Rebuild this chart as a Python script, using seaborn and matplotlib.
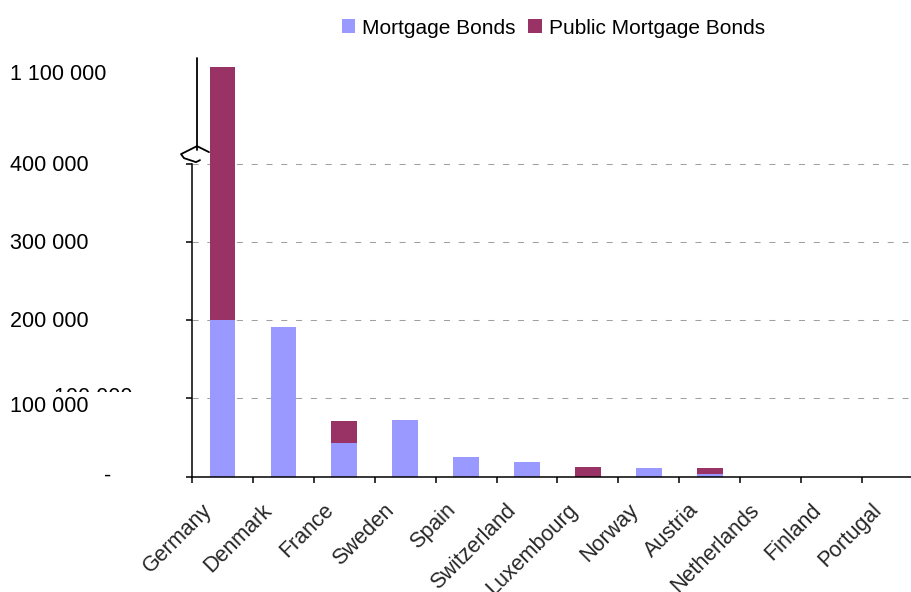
import numpy as np
import pandas as pd
import matplotlib
matplotlib.use("Agg")
import matplotlib.pyplot as plt
import matplotlib.patches as mpatches
from matplotlib.lines import Line2D
from matplotlib.transforms import ScaledTranslation
import seaborn as sns

# Outstanding covered bonds by country
countries = ["Germany", "Denmark", "France", "Sweden", "Spain", "Switzerland",
             "Luxembourg", "Norway", "Austria", "Netherlands", "Finland", "Portugal"]
mortgage_bonds = [201000, 191000, 42300, 71800, 25600, 18000, 0, 10300, 3800, 0, 0, 0]
public_mortgage_bonds = [955000, 0, 28200, 0, 0, 0, 12800, 0, 6500, 0, 0, 0]
series_names = ["Mortgage Bonds", "Public Mortgage Bonds"]
tick_values = [0, 100000, 200000, 300000, 400000]
tick_labels = ["-", "100 000", "200 000", "300 000", "400 000"]
break_value = 400000
top_value = 1100000
top_label = "1 100 000"

C_MORT = "#9999FF"
C_PUB = "#993366"

sns.set_style("white")
plt.rcParams["font.family"] = ["Liberation Sans", "DejaVu Sans"]
plt.rcParams["text.color"] = "black"

df = pd.DataFrame({
    "country": countries,
    "mortgage": mortgage_bonds,
    "public": public_mortgage_bonds,
})
df["total"] = df["mortgage"] + df["public"]

W, H = 912, 592
fig = plt.figure(figsize=(W / 100, H / 100), dpi=100)
ax_left, ax_right, ax_top, ax_bottom = 192, 923, 58, 476.5
ax = fig.add_axes([ax_left / W, (H - ax_bottom) / H,
                   (ax_right - ax_left) / W, (ax_bottom - ax_top) / H])

# broken value axis: linear up to the break, compressed above it
K = 90.0 / 546.0


def fwd(y):
    y = np.asarray(y, dtype=float)
    return np.where(y <= break_value, y, break_value + (y - break_value) * K)


def inv(t):
    t = np.asarray(t, dtype=float)
    return np.where(t <= break_value, t, break_value + (t - break_value) / K)


ax.set_yscale("function", functions=(fwd, inv))

# stacked bars: full stack in public colour, mortgage part drawn over it
sns.barplot(data=df, x="country", y="total", color=C_PUB, saturation=1,
            width=0.42, errorbar=None, ax=ax, zorder=3, linewidth=0, edgecolor="none")
sns.barplot(data=df, x="country", y="mortgage", color=C_MORT, saturation=1,
            width=0.42, errorbar=None, ax=ax, zorder=3, linewidth=0, edgecolor="none")

y_top = break_value + (106 / 78.0 * 100000) / K
ax.set_ylim(0, y_top)
ax.set_xlim(-0.5, len(countries) - 0.5)
ax.set_xlabel("")
ax.set_ylabel("")

# dashed gridlines
for v in tick_values[1:]:
    ax.axhline(v, color="#a0a0a0", lw=0.75, ls=(0, (5.8, 8.4)), zorder=1)

for s in ["top", "right"]:
    ax.spines[s].set_visible(False)
for s in ["left", "bottom"]:
    ax.spines[s].set_color("black")
    ax.spines[s].set_linewidth(1.1)
    ax.spines[s].set_zorder(4)
ax.spines["left"].set_bounds(0, break_value)

ax.set_yticks(tick_values)
ax.set_yticklabels([""] * len(tick_values))
ax.tick_params(axis="y", direction="out", length=4.3, width=1.1, color="black", left=True)

# category boundaries carry the tick marks, centres carry the labels
ax.set_xticks(np.arange(-0.5, len(countries) + 0.5, 1.0), minor=True)
ax.tick_params(axis="x", which="minor", direction="out", length=4.3, width=1.1,
               color="black", bottom=True)
ax.tick_params(axis="x", which="major", length=0, pad=23.5, labelsize=15.5)
ax.set_xticks(range(len(countries)))
ax.set_xticklabels(countries, rotation=45, ha="right", va="center",
                   rotation_mode="anchor")
shift = ScaledTranslation(-0.14, 0.02, fig.dpi_scale_trans)
for lbl in ax.get_xticklabels():
    lbl.set_transform(lbl.get_transform() + shift)

fig.canvas.draw()


def px(xd, yd):
    """data -> figure pixel (y measured from the top)"""
    x, y = ax.transData.transform((xd, yd))
    return x, H - y


def fig_xy(x, y):
    return x / W, 1 - y / H


FS = 15.5

# value-axis labels
for v, t in zip(tick_values, tick_labels):
    _, yp = px(0, v)
    if v == 0:
        fig.text(*fig_xy(108, yp), t, ha="center", va="center", fontsize=FS)
    elif v == 100000:
        fig.text(*fig_xy(133, yp - 1), t, ha="right", va="center", fontsize=FS)
        fig.patches.append(mpatches.Rectangle(fig_xy(5, 420), 135 / W, 28 / H,
                                              transform=fig.transFigure,
                                              facecolor="white", edgecolor="none",
                                              zorder=5))
        fig.text(*fig_xy(10, yp + 8), t, ha="left", va="center", fontsize=FS, zorder=6)
    else:
        fig.text(*fig_xy(10, yp + 1), t, ha="left", va="center", fontsize=FS)
_, yp = px(0, top_value)
fig.text(*fig_xy(10, yp), top_label, ha="left", va="center", fontsize=FS)

# upper axis segment and break mark
xb, yb = px(-0.5, break_value)
fig.add_artist(Line2D([(xb + 5) / W] * 2, [1 - ax_top / H, 1 - (yb - 14) / H],
                      transform=fig.transFigure, color="black", lw=1.3))
sq = [(17, -12), (5, -18), (-11, -10), (-8, -6), (4, -2), (8, -4)]
fig.add_artist(Line2D([(xb + dx) / W for dx, dy in sq],
                      [1 - (yb + dy) / H for dx, dy in sq],
                      transform=fig.transFigure, color="black", lw=1.3,
                      solid_joinstyle="round"))

handles = [mpatches.Patch(facecolor=C_MORT, edgecolor="none"),
           mpatches.Patch(facecolor=C_PUB, edgecolor="none")]
fig.legend(handles, series_names, loc="center", bbox_to_anchor=(553.5 / W, 1 - 28 / H),
           ncol=2, frameon=False, fontsize=15, handlelength=0.65, handleheight=0.65,
           handletextpad=0.35, columnspacing=0.6, borderpad=0, borderaxespad=0)

fig.savefig("out.png", dpi=100)
